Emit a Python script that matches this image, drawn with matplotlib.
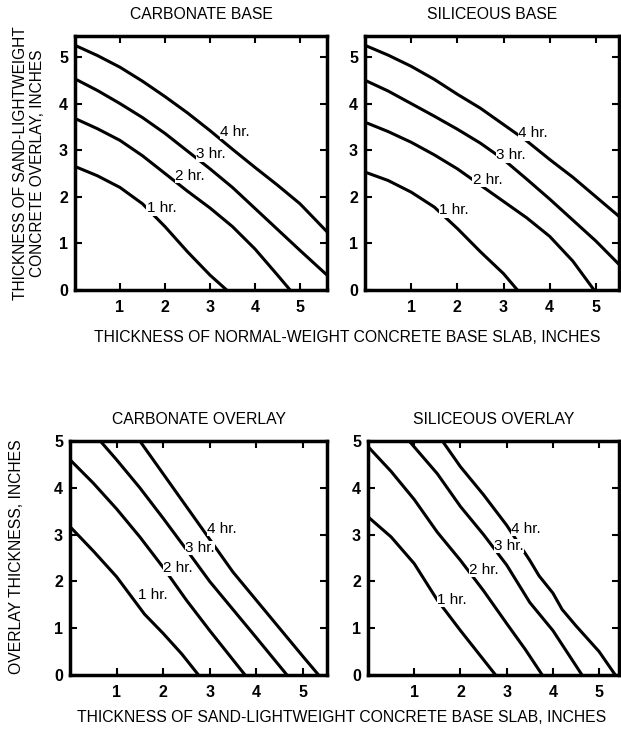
import matplotlib
matplotlib.use("Agg")
import matplotlib.pyplot as plt

plt.rcParams['font.family'] = ['Liberation Sans', 'DejaVu Sans']

hour_labels = ["1 hr.", "2 hr.", "3 hr.", "4 hr."]
x_ticks = [1, 2, 3, 4, 5]
y_ticks = [0, 1, 2, 3, 4, 5]

# carbonate base (top left)
cb_x = [[0, 0.5, 1, 1.5, 2, 2.5, 3, 3.37],
        [0, 0.5, 1, 1.5, 2, 2.5, 3, 3.5, 4, 4.5, 4.78],
        [0, 0.5, 1, 1.5, 2, 2.5, 3, 3.5, 4, 4.5, 5, 5.6],
        [0, 0.5, 1, 1.5, 2, 2.5, 3, 3.5, 4, 4.5, 5, 5.6]]
cb_y = [[2.65, 2.45, 2.2, 1.85, 1.36, 0.82, 0.32, 0],
        [3.68, 3.46, 3.21, 2.88, 2.5, 2.12, 1.76, 1.36, 0.88, 0.32, 0],
        [4.53, 4.28, 4.0, 3.7, 3.36, 2.98, 2.6, 2.2, 1.75, 1.3, 0.85, 0.32],
        [5.25, 5.03, 4.78, 4.48, 4.15, 3.8, 3.42, 3.02, 2.63, 2.25, 1.85, 1.25]]
cb_lab = [(1.59, 1.75), (2.22, 2.45), (2.7, 2.91), (3.22, 3.39)]

# siliceous base (top right)
sb_x = [[0, 0.5, 1, 1.5, 2, 2.5, 3, 3.3],
        [0, 0.5, 1, 1.5, 2, 2.5, 3, 3.5, 4, 4.5, 4.96],
        [0, 0.5, 1, 1.5, 2, 2.5, 3, 3.5, 4, 4.5, 5, 5.5],
        [0, 0.5, 1, 1.5, 2, 2.5, 3, 3.5, 4, 4.5, 5, 5.5]]
sb_y = [[2.53, 2.35, 2.1, 1.78, 1.32, 0.82, 0.35, 0],
        [3.6, 3.4, 3.17, 2.9, 2.6, 2.25, 1.9, 1.55, 1.15, 0.62, 0],
        [4.5, 4.27, 4.0, 3.73, 3.45, 3.15, 2.8, 2.38, 1.95, 1.5, 1.05, 0.55],
        [5.25, 5.04, 4.8, 4.52, 4.2, 3.9, 3.55, 3.2, 2.8, 2.42, 2.0, 1.58]]
sb_lab = [(1.61, 1.71), (2.33, 2.36), (2.84, 2.89), (3.31, 3.36)]

# carbonate overlay (bottom left)
co_x = [[0, 0.5, 1, 1.3, 1.6, 2, 2.4, 2.76],
        [0, 0.5, 1, 1.5, 2, 2.5, 3, 3.4, 3.76],
        [0.65, 1, 1.5, 2, 2.5, 3, 3.5, 4, 4.66],
        [1.5, 2, 2.5, 3, 3.5, 4, 4.5, 5, 5.34]]
co_y = [[3.17, 2.65, 2.1, 1.7, 1.3, 0.89, 0.45, 0],
        [4.6, 4.1, 3.55, 2.95, 2.3, 1.6, 0.95, 0.45, 0],
        [5, 4.6, 4.0, 3.35, 2.68, 2.0, 1.4, 0.8, 0],
        [5, 4.3, 3.6, 2.9, 2.2, 1.6, 1.0, 0.4, 0]]
co_lab = [(1.47, 1.71), (2.0, 2.28), (2.47, 2.71), (2.94, 3.13)]

# siliceous overlay (bottom right)
so_x = [[0, 0.5, 1, 1.5, 2, 2.4, 2.76],
        [0, 0.5, 1, 1.5, 2, 2.5, 3, 3.4, 3.77],
        [0.89, 1.5, 2, 2.5, 3, 3.5, 4, 4.63],
        [1.61, 2, 2.5, 3, 3.5, 3.7, 4, 4.2, 4.5, 5, 5.35]]
so_y = [[3.38, 2.95, 2.38, 1.6, 0.95, 0.45, 0],
        [4.88, 4.35, 3.75, 3.05, 2.45, 1.8, 1.1, 0.55, 0],
        [5, 4.3, 3.6, 3.0, 2.35, 1.55, 0.95, 0],
        [5, 4.45, 3.85, 3.2, 2.45, 2.12, 1.75, 1.4, 1.05, 0.5, 0]]
so_lab = [(1.5, 1.6), (2.19, 2.24), (2.73, 2.76), (3.09, 3.13)]

W, H = 621, 729
fig = plt.figure(figsize=(W / 100, H / 100), dpi=100)


def panel(px, py, pw, ph, xs, ys, labs, title, xmax, ymax):
    ax = fig.add_axes([px / W, 1 - (py + ph) / H, pw / W, ph / H])
    for xv, yv in zip(xs, ys):
        ax.plot(xv, yv, color='black', lw=2.2, solid_capstyle='butt', zorder=2)
    for (lx, ly), txt in zip(labs, hour_labels):
        ax.text(lx, ly, txt, fontsize=11, va='center', ha='left', zorder=3,
                bbox=dict(facecolor='white', edgecolor='none', pad=0.2))
    ax.set_xlim(0, xmax)
    ax.set_ylim(0, ymax)
    ax.set_xticks(x_ticks)
    ax.set_yticks(y_ticks)
    ax.tick_params(direction='in', top=True, right=True, length=5, width=1.5,
                   labelsize=11.5)
    ax.tick_params(axis='x', pad=7)
    ax.tick_params(axis='y', pad=5)
    for lab in ax.get_xticklabels() + ax.get_yticklabels():
        lab.set_fontweight('bold')
    for sp in ax.spines.values():
        sp.set_linewidth(2.5)
    ax.set_title(title, fontsize=11.3, pad=12)
    return ax


panel(75, 36, 252, 254, cb_x, cb_y, cb_lab, "CARBONATE BASE", 5.6, 5.45)
panel(365, 36, 254, 254, sb_x, sb_y, sb_lab, "SILICEOUS BASE", 5.5, 5.45)
panel(70, 441, 257, 234, co_x, co_y, co_lab, "CARBONATE OVERLAY", 5.52, 5)
panel(368, 441, 251, 234, so_x, so_y, so_lab, "SILICEOUS OVERLAY", 5.43, 5)

fig.text(29 / W, 1 - 163 / H, "THICKNESS OF SAND-LIGHTWEIGHT\nCONCRETE OVERLAY, INCHES",
         rotation=90, ha='center', va='center', fontsize=11.2, linespacing=1.1)
fig.text(17 / W, 1 - 557 / H, "OVERLAY THICKNESS, INCHES",
         rotation=90, ha='center', va='center', fontsize=11.3)
fig.text(347 / W, 1 - 337 / H, "THICKNESS OF NORMAL-WEIGHT CONCRETE BASE SLAB, INCHES",
         ha='center', va='center', fontsize=11.3)
fig.text(342 / W, 1 - 717 / H, "THICKNESS OF SAND-LIGHTWEIGHT CONCRETE BASE SLAB, INCHES",
         ha='center', va='center', fontsize=11.3)

fig.savefig("out.png", dpi=100)
